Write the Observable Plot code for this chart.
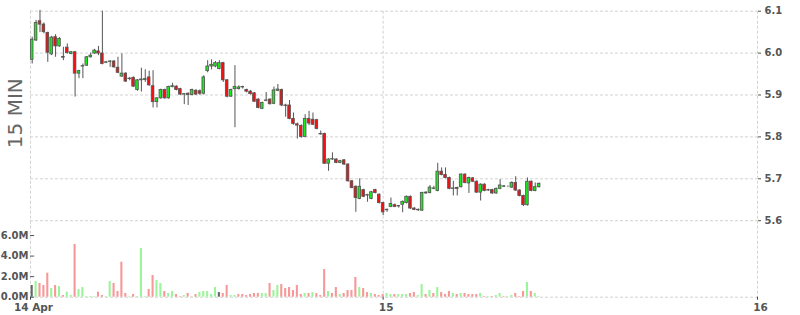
<!DOCTYPE html>
<html><head><meta charset="utf-8">
<script src="https://cdn.jsdelivr.net/npm/d3@7"></script>
<script src="https://cdn.jsdelivr.net/npm/@observablehq/plot@0.6"></script>
<style>
html,body{margin:0;padding:0;background:#fff;}
#chart{position:relative;width:800px;height:315px;}
#chart svg{position:absolute;left:0;top:0;}
</style></head><body><div id="chart"></div>
<script>
const intervalLabel = "15 MIN";
const firstCandle = "2024-04-14T01:30:00Z";
const stepMinutes = 15;

const opens = [5.984,6.030,6.076,6.068,6.048,5.997,6.038,6.016,5.991,6.013,
5.998,6.002,5.951,5.968,5.970,5.990,5.999,6.004,5.999,5.977,
5.979,5.980,5.965,5.944,5.951,5.938,5.941,5.912,5.935,5.936,
5.942,5.921,5.883,5.892,5.912,5.892,5.919,5.920,5.914,5.901,
5.903,5.900,5.910,5.909,5.903,5.957,5.968,5.968,5.962,5.976,
5.935,5.896,5.914,5.914,5.919,5.912,5.908,5.904,5.889,5.867,
5.886,5.889,5.879,5.910,5.912,5.875,5.875,5.843,5.830,5.826,
5.800,5.843,5.841,5.840,5.807,5.807,5.736,5.746,5.746,5.738,
5.744,5.734,5.694,5.681,5.652,5.673,5.661,5.652,5.673,5.662,
5.642,5.625,5.633,5.637,5.634,5.638,5.642,5.657,5.629,5.625,
5.624,5.667,5.666,5.676,5.671,5.717,5.709,5.702,5.676,5.678,
5.680,5.710,5.689,5.701,5.693,5.667,5.686,5.672,5.673,5.665,
5.676,5.681,5.681,5.679,5.690,5.672,5.659,5.637,5.693,5.671,
5.680];
const highs = [6.038,6.078,6.102,6.072,6.050,6.040,6.044,6.037,6.014,6.022,
6.004,6.004,5.959,5.974,5.992,6.000,6.009,6.016,6.100,5.980,
5.982,5.982,5.990,5.998,5.953,5.942,5.943,5.937,5.964,5.960,
5.957,5.958,5.894,5.914,5.914,5.921,5.928,5.922,5.916,5.903,
5.905,5.914,5.913,5.912,5.946,5.982,5.984,5.980,5.982,5.978,
5.937,5.914,5.970,5.922,5.921,5.914,5.911,5.906,5.891,5.883,
5.906,5.891,5.919,5.925,5.914,5.878,5.887,5.857,5.833,5.829,
5.853,5.861,5.857,5.842,5.814,5.809,5.748,5.762,5.748,5.744,
5.746,5.736,5.696,5.683,5.700,5.675,5.663,5.670,5.675,5.664,
5.644,5.628,5.654,5.640,5.636,5.647,5.659,5.659,5.631,5.628,
5.668,5.669,5.684,5.682,5.737,5.726,5.726,5.704,5.694,5.680,
5.712,5.712,5.704,5.703,5.695,5.688,5.688,5.675,5.675,5.678,
5.698,5.684,5.683,5.693,5.705,5.674,5.661,5.702,5.695,5.690,
5.690];
const lows = [5.974,6.028,6.049,6.046,5.978,5.994,5.990,6.014,5.982,5.998,
5.996,5.895,5.939,5.939,5.968,5.988,5.997,5.994,5.972,5.975,
5.966,5.964,5.951,5.942,5.930,5.934,5.918,5.909,5.907,5.930,
5.921,5.869,5.869,5.890,5.890,5.890,5.917,5.910,5.899,5.877,
5.875,5.898,5.899,5.899,5.900,5.953,5.960,5.965,5.960,5.930,
5.893,5.894,5.822,5.912,5.914,5.905,5.900,5.882,5.867,5.865,
5.884,5.876,5.877,5.908,5.872,5.847,5.841,5.828,5.795,5.797,
5.798,5.827,5.827,5.817,5.804,5.734,5.718,5.744,5.736,5.736,
5.732,5.692,5.676,5.620,5.650,5.655,5.644,5.650,5.664,5.640,
5.612,5.620,5.631,5.631,5.630,5.619,5.640,5.627,5.624,5.622,
5.622,5.663,5.664,5.674,5.669,5.707,5.700,5.674,5.659,5.659,
5.678,5.688,5.665,5.691,5.665,5.647,5.669,5.670,5.663,5.663,
5.674,5.679,5.679,5.677,5.670,5.657,5.634,5.635,5.669,5.669,
5.678];
const closes = [6.032,6.072,6.068,6.050,6.001,6.037,6.016,6.034,5.989,6.000,
6.002,5.951,5.957,5.969,5.990,5.994,6.006,5.999,5.974,5.978,
5.980,5.966,5.953,5.951,5.932,5.939,5.920,5.935,5.937,5.938,
5.923,5.883,5.892,5.912,5.892,5.919,5.921,5.912,5.901,5.902,
5.900,5.912,5.901,5.903,5.942,5.968,5.972,5.976,5.976,5.935,
5.896,5.912,5.919,5.918,5.918,5.908,5.902,5.884,5.869,5.881,
5.887,5.878,5.911,5.913,5.875,5.874,5.843,5.831,5.827,5.800,
5.843,5.832,5.829,5.819,5.806,5.736,5.746,5.747,5.738,5.742,
5.734,5.694,5.678,5.654,5.681,5.657,5.660,5.668,5.666,5.642,
5.620,5.626,5.640,5.633,5.635,5.645,5.657,5.629,5.626,5.626,
5.666,5.665,5.679,5.677,5.717,5.709,5.702,5.676,5.677,5.676,
5.710,5.690,5.702,5.693,5.667,5.686,5.671,5.673,5.665,5.676,
5.684,5.682,5.681,5.690,5.672,5.659,5.637,5.693,5.671,5.680,
5.688];
// volume in millions
const volumes = [1.14,1.53,1.33,1.14,2.34,0.84,1.14,1.04,0.16,0.49,
0.16,5.13,0.75,0.94,0.06,0.06,0.06,0.49,0.16,0.06,
1.53,1.33,0.55,3.41,0.36,0.06,0.26,0.06,4.74,0.06,
0.75,2.11,1.62,1.33,0.55,0.36,0.55,0.26,0.05,0.16,
0.36,0.05,0.26,0.45,0.55,0.55,0.26,0.94,0.45,0.36,
1.14,0.16,0.16,0.26,0.26,0.16,0.26,0.36,0.36,0.36,
0.36,1.33,0.65,1.14,1.23,0.84,0.94,0.65,1.14,0.26,
0.36,0.36,0.45,0.36,0.16,2.69,0.55,0.36,0.94,0.26,
0.36,0.65,0.65,1.92,0.94,0.84,0.45,0.36,0.26,0.16,
0.26,0.36,0.26,0.26,0.26,0.26,0.26,0.36,0.45,0.16,
1.23,0.26,0.65,0.36,0.94,0.45,0.26,0.55,0.36,0.26,
0.36,0.36,0.26,0.26,0.26,0.36,0.06,0.06,0.06,0.16,
0.36,0.06,0.06,0.16,0.36,0.06,0.55,1.43,0.55,0.36,
0.06];
// volume bar colour as read: 1 up, -1 down, 0 unchanged
const volumeDir = [0,1,-1,-1,-1,1,-1,1,-1,1,
1,-1,1,1,1,1,1,-1,-1,1,
1,-1,-1,-1,-1,1,-1,1,1,1,
-1,-1,1,1,-1,1,1,-1,-1,1,
-1,1,-1,1,1,1,1,1,0,-1,
-1,1,1,-1,-1,-1,-1,-1,-1,1,
1,-1,1,1,-1,-1,-1,-1,-1,-1,
1,-1,1,-1,-1,-1,1,-1,-1,1,
-1,-1,-1,-1,1,-1,-1,1,-1,-1,
-1,1,1,-1,1,1,1,-1,-1,1,
1,-1,1,-1,1,-1,-1,-1,1,-1,
1,-1,-1,-1,-1,1,-1,1,-1,1,
1,-1,1,1,-1,-1,-1,1,-1,1,
1];

const xTickDates = ["2024-04-14T01:23:30Z", "2024-04-15T00:00:00Z", "2024-04-16T00:00:00Z"];
const xTickLabels = ["14 Apr", "15", "16"];
const priceTicks = [5.6, 5.7, 5.8, 5.9, 6.0, 6.1];
const volumeTicks = [0, 2, 4, 6];

const MIN = 60000;
const t0 = +new Date(firstCandle);
const candles = opens.map((o, i) => ({
  t: new Date(t0 + i * stepMinutes * MIN),
  o, h: highs[i], l: lows[i], c: closes[i], v: volumes[i], dir: volumeDir[i]
}));
const tickDates = xTickDates.map(d => new Date(d));
const labelOf = new Map(tickDates.map((d, i) => [+d, xTickLabels[i]]));

const W = 800, H = 315, mL = 30, mR = 43, mT = 10.7, mB = 18.3;
const font = "DejaVu Sans";
const gridStyle = {stroke: "#d2d2d2", strokeOpacity: 1, strokeDasharray: "3,2"};
const base = {
  width: W, height: H, marginLeft: mL, marginRight: mR, marginTop: mT, marginBottom: mB,
  style: {fontFamily: font, background: "transparent", overflow: "visible"},
  color: {type: "identity"}
};
const xDomain = [tickDates[0], tickDates[2]];

const pricePlot = Plot.plot({
  ...base,
  x: {type: "utc", domain: xDomain, axis: null},
  y: {domain: [5.41742, 6.1], label: null},
  marks: [
    Plot.gridY(priceTicks, gridStyle),
    Plot.gridX(tickDates, gridStyle),
    Plot.ruleX(candles, {x: "t", y1: "l", y2: "h", stroke: "#555", strokeWidth: 1}),
    Plot.rect(candles, {
      x1: d => new Date(+d.t - 5 * MIN), x2: d => new Date(+d.t + 5 * MIN),
      y1: "o", y2: "c",
      fill: d => d.c >= d.o ? "#1aec1a" : "#f21010",
      stroke: "#555", strokeWidth: 0.85
    }),
    Plot.axisY(priceTicks, {anchor: "right", tickSize: 3, tickPadding: 4, label: null,
      tickFormat: d => d.toFixed(1), fontWeight: "bold", fontSize: 10, color: "#555"}),
    Plot.text([intervalLabel], {frameAnchor: "left", dx: -15, dy: -41, rotate: -90,
      textAnchor: "middle", fontSize: 20, fill: "#666", fontFamily: font})
  ]
});

const volPlot = Plot.plot({
  ...base,
  x: {type: "utc", domain: xDomain},
  y: {domain: [0, 27.82], label: null},
  marks: [
    Plot.ruleY([0], gridStyle),
    Plot.rectY(candles, {
      x1: d => new Date(+d.t - 4 * MIN), x2: d => new Date(+d.t + 4 * MIN), y: "v",
      fill: d => d.dir > 0 ? "#9af59a" : d.dir < 0 ? "#f89797" : "#666"
    }),
    Plot.ruleY(volumeTicks, {x1: () => tickDates[0], x2: () => new Date(+tickDates[0] + 16 * MIN), stroke: "#555"}),
    Plot.axisY(volumeTicks, {anchor: "left", tickSize: 0, tickPadding: 2, label: null,
      tickFormat: d => d.toFixed(1) + "M", fontWeight: "bold", fontSize: 10, color: "#555"}),
    Plot.axisX(tickDates, {anchor: "bottom", tickSize: 3, label: null, tickFormat: () => "", color: "#444"}),
    Plot.axisX(tickDates, {anchor: "bottom", tickSize: 0, tickPadding: 6.5, label: null, dx: 3,
      tickFormat: d => labelOf.get(+d), fontWeight: "bold", fontSize: 10.5, color: "#555"})
  ]
});

const chart = document.getElementById("chart");
chart.appendChild(pricePlot);
chart.appendChild(volPlot);
</script></body></html>
